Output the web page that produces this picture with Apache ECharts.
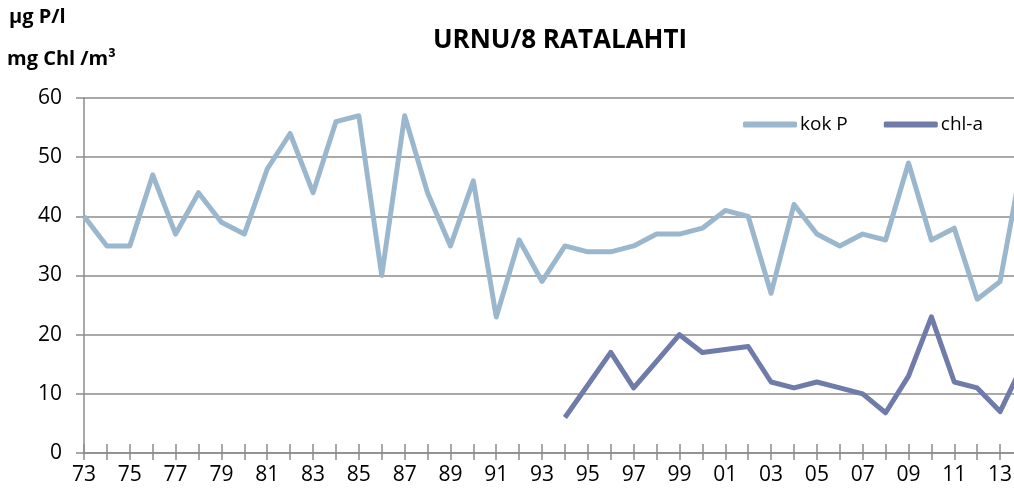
<!DOCTYPE html>
<html>
<head>
<meta charset="utf-8">
<script src="https://cdn.jsdelivr.net/npm/echarts@6/dist/echarts.min.js"></script>
<style>
  html, body { margin: 0; padding: 0; background: #fff; }
  #main { width: 1014px; height: 500px; }
</style>
</head>
<body>
<div id="main"></div>
<script>
// vuodet 1973-2014
var years = ['73','74','75','76','77','78','79','80','81','82','83','84','85','86',
  '87','88','89','90','91','92','93','94','95','96','97','98','99','00','01','02',
  '03','04','05','06','07','08','09','10','11','12','13','14'];

// kokonaisfosfori µg/l
var kokP = [40,35,35,47,37,44,39,37,48,54,44,56,57,30,57,44,35,46,23,36,29,
  35,34,34,35,37,37,38,41,40,27,42,37,35,37,36,49,36,38,26,29,50];

// klorofylli-a mg/m3 (alkaa 1994)
var chlA = [null,null,null,null,null,null,null,null,null,null,null,null,null,null,
  null,null,null,null,null,null,null,
  6,11.5,17,11,15.5,20,17,17.5,18,12,11,12,11,10,6.8,13,23,12,11,7,15];

var yTicks = [0,10,20,30,40,50,60];

var font = '"Open Sans", "Liberation Sans", sans-serif';
var gray = '#8c8c8c';

var myChart = echarts.init(document.getElementById('main'));
var option = {
  animation: false,
  textStyle: { fontFamily: font },
  title: {
    text: 'URNU/8 RATALAHTI',
    left: 555,
    textAlign: 'center',
    top: 23,
    textStyle: { fontFamily: font, fontSize: 26, fontWeight: 'bold', color: '#000' }
  },
  graphic: [
    { type: 'text', left: 9, top: 7,
      style: { text: 'µg P/l', font: 'bold 20px ' + font, fill: '#000' } },
    { type: 'text', left: 7, top: 49,
      style: { text: 'mg Chl /m³', font: 'bold 20px ' + font, fill: '#000' } }
  ],
  legend: {
    right: 26,
    top: 110,
    itemWidth: 54,
    itemHeight: 6,
    itemGap: 36,
    icon: 'roundRect',
    textStyle: { fontFamily: font, fontSize: 19, color: '#000', padding: [0, 0, 0, -2] },
    data: ['kok P', 'chl-a']
  },
  // plot runs past the right edge (the 2014 point is cut off like in the original)
  grid: { left: 84, right: -9, top: 98, bottom: 47, outerBoundsMode: 'none', containLabel: false },
  xAxis: [
    {
      type: 'category',
      data: years,
      boundaryGap: false,
      axisLine: { lineStyle: { color: gray, width: 1.5 } },
      axisTick: { interval: 0, length: 7, lineStyle: { color: gray, width: 1.5 } },
      axisLabel: { interval: 1, margin: 12, fontFamily: font, fontSize: 21, color: '#000' },
      splitLine: { show: false }
    },
    {
      type: 'category',
      data: years,
      boundaryGap: false,
      position: 'bottom',
      axisLine: { show: false },
      axisTick: { interval: 0, inside: true, length: 9, lineStyle: { color: gray, width: 1.5 } },
      axisLabel: { show: false },
      splitLine: { show: false }
    }
  ],
  yAxis: {
    type: 'value',
    min: yTicks[0],
    max: yTicks[yTicks.length - 1],
    interval: 10,
    axisLine: { show: true, lineStyle: { color: gray, width: 1.5 } },
    axisTick: { show: true, length: 8, lineStyle: { color: gray, width: 1.5 } },
    axisLabel: { margin: 22, fontFamily: font, fontSize: 21, color: '#000' },
    splitLine: { lineStyle: { color: gray, width: 1.5 } }
  },
  series: [
    {
      name: 'kok P',
      type: 'line',
      data: kokP,
      symbol: 'none',
      color: '#9bb7cd',
      lineStyle: { width: 5, color: '#9bb7cd', join: 'round' }
    },
    {
      name: 'chl-a',
      type: 'line',
      data: chlA,
      symbol: 'none',
      color: '#6f7ba8',
      lineStyle: { width: 5, color: '#6f7ba8', join: 'round' }
    }
  ]
};
myChart.setOption(option);
</script>
</body>
</html>
